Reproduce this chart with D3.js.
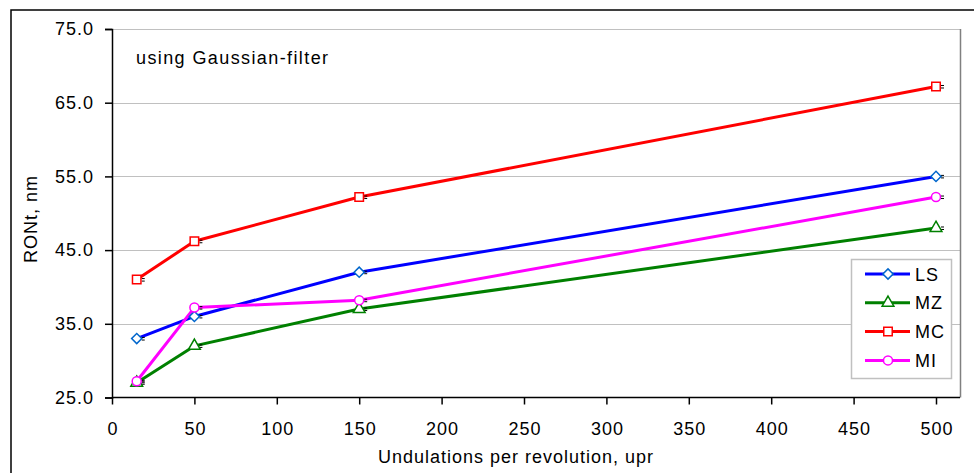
<!DOCTYPE html>
<html>
<head>
<meta charset="UTF-8">
<title>RONt</title>
<script src="https://cdn.jsdelivr.net/npm/d3@7"></script>
<style>
	body { margin: 0; background: #fff; }
	svg { font-family: "Liberation Sans", Arial, sans-serif; }
</style>
</head>
<body>
	<div id="graph"></div>
	<script type="text/javascript">
		// data
		var upr = [ 15, 50, 150, 500 ];
		var ls = [ 33.0, 36.0, 42.0, 55.0 ];
		var mz = [ 27.0, 32.0, 37.0, 48.0 ];
		var mc = [ 41.0, 46.2, 52.2, 67.2 ];
		var mi = [ 27.2, 37.2, 38.2, 52.2 ];
		var xTicks = [ 0, 50, 100, 150, 200, 250, 300, 350, 400, 450, 500 ];
		var yTicks = [ 25, 35, 45, 55, 65, 75 ];

		var series = [
			{ name : "LS", values : ls, color : "#0000ff", marker : "#0066cc", symbol : "diamond" },
			{ name : "MZ", values : mz, color : "#008000", marker : "#008000", symbol : "triangle" },
			{ name : "MC", values : mc, color : "#ff0000", marker : "#ff0000", symbol : "square" },
			{ name : "MI", values : mi, color : "#ff00ff", marker : "#ff00ff", symbol : "circle" }
		];

		var width = 974, height = 473;
		var plot = { left : 112, top : 29, right : 960, bottom : 397.5 };
		var fs = 18, ls_ = 1; // font size and letter spacing

		var svg = d3.select("#graph").append("svg").attr("width", width).attr("height", height);

		// outer chart border (runs off the picture right and bottom)
		svg.append("rect").attr("x", 11).attr("y", 10).attr("width", 1000).attr("height", 500)
			.attr("fill", "none").attr("stroke", "#000").attr("stroke-width", 1.5);

		var x = d3.scaleLinear().domain([ 0, 500 ]).range([ plot.left, 936 ]);
		var y = d3.scaleLinear().domain([ 25, 75 ]).range([ plot.bottom, plot.top ]);

		// gridlines
		svg.append("g").selectAll("line").data(yTicks.slice(1)).enter().append("line")
			.attr("x1", plot.left).attr("x2", plot.right)
			.attr("y1", function(d) { return Math.round(y(d)) + 0.5; })
			.attr("y2", function(d) { return Math.round(y(d)) + 0.5; })
			.attr("stroke", "#c0c0c0").attr("stroke-width", 1);

		// plot area right edge
		svg.append("line").attr("x1", plot.right + 0.5).attr("x2", plot.right + 0.5)
			.attr("y1", plot.top).attr("y2", plot.bottom)
			.attr("stroke", "#808080").attr("stroke-width", 1.5);

		// axes
		var yAxis = svg.append("g").attr("transform", "translate(" + plot.left + ",0)")
			.call(d3.axisLeft(y).tickValues(yTicks).tickSize(7).tickPadding(11).tickFormat(d3.format(".1f")));
		var xAxis = svg.append("g").attr("transform", "translate(0," + plot.bottom + ")")
			.call(d3.axisBottom(x).tickValues(xTicks).tickSize(7).tickPadding(17.5));
		xAxis.select(".domain").attr("d", "M" + plot.left + ",0H" + plot.right);

		[ xAxis, yAxis ].forEach(function(a) {
			a.selectAll("path, line").attr("stroke", "#000").attr("stroke-width", 1.5);
			a.selectAll("text").attr("font-size", fs).attr("letter-spacing", ls_).attr("fill", "#000")
				.attr("font-family", "Liberation Sans, Arial, sans-serif");
		});
		xAxis.selectAll("text").attr("dx", ls_ / 2);

		// axis titles
		svg.append("text").attr("x", 516).attr("y", 463).attr("text-anchor", "middle")
			.attr("font-size", fs).attr("letter-spacing", ls_).text("Undulations per revolution, upr");
		svg.append("text").attr("transform", "translate(37,219) rotate(-90)").attr("text-anchor", "middle")
			.attr("font-size", fs).attr("letter-spacing", ls_).text("RONt, nm");

		svg.append("text").attr("x", 136).attr("y", 64).attr("font-size", fs).attr("letter-spacing", 1.4)
			.text("using Gaussian-filter");

		var symbols = {
			diamond : d3.symbol().type(d3.symbolSquare).size(52),
			triangle : d3.symbol().type(d3.symbolTriangle).size(60),
			square : d3.symbol().type(d3.symbolSquare).size(72),
			circle : d3.symbol().type(d3.symbolCircle).size(64)
		};
		var rot = function(s) { return s.symbol === "diamond" ? " rotate(45)" : ""; };

		var line = d3.line().x(function(d, i) { return x(upr[i]); }).y(function(d) { return y(d); });

		series.forEach(function(s) {
			svg.append("path").datum(s.values).attr("fill", "none").attr("stroke", s.color)
				.attr("stroke-width", 3).attr("stroke-linejoin", "round").attr("d", line);
		});

		series.forEach(function(s) {
			var g = svg.append("g");
			// tiny black error marks next to the points
			g.selectAll("path.err").data(s.values).enter().append("path").attr("class", "err")
				.attr("d", function(d, i) {
					var px = x(upr[i]) + 5, py = y(d);
					return "M" + px + "," + (py - 1) + "h3M" + px + "," + (py + 1.5) + "h3";
				})
				.attr("stroke", "#000").attr("stroke-width", 1);
			g.selectAll("path.mk").data(s.values).enter().append("path").attr("class", "mk")
				.attr("d", symbols[s.symbol])
				.attr("transform", function(d, i) { return "translate(" + x(upr[i]) + "," + y(d) + ")" + rot(s); })
				.attr("fill", "#fff").attr("stroke", s.marker).attr("stroke-width", 1.5);
		});

		// legend
		var legend = svg.append("g").attr("transform", "translate(851,259)");
		legend.append("rect").attr("x", 0.5).attr("y", 0.5).attr("width", 100).attr("height", 119)
			.attr("fill", "#fff").attr("stroke", "#c0c0c0").attr("stroke-width", 1.5);
		var item = legend.selectAll("g.item").data(series).enter().append("g").attr("class", "item")
			.attr("transform", function(d, i) { return "translate(0," + (15 + i * 28.8) + ")"; });
		item.append("line").attr("x1", 14).attr("x2", 59).attr("y1", 0).attr("y2", 0)
			.attr("stroke", function(d) { return d.color; }).attr("stroke-width", 3);
		item.append("path").attr("d", function(d) { return symbols[d.symbol](); })
			.attr("transform", function(d) { return "translate(37,0)" + rot(d); })
			.attr("fill", "#fff").attr("stroke", function(d) { return d.marker; }).attr("stroke-width", 1.5);
		item.append("text").attr("x", 64).attr("y", 6.5).attr("font-size", fs).attr("letter-spacing", ls_)
			.text(function(d) { return d.name; });
	</script>
</body>
</html>
